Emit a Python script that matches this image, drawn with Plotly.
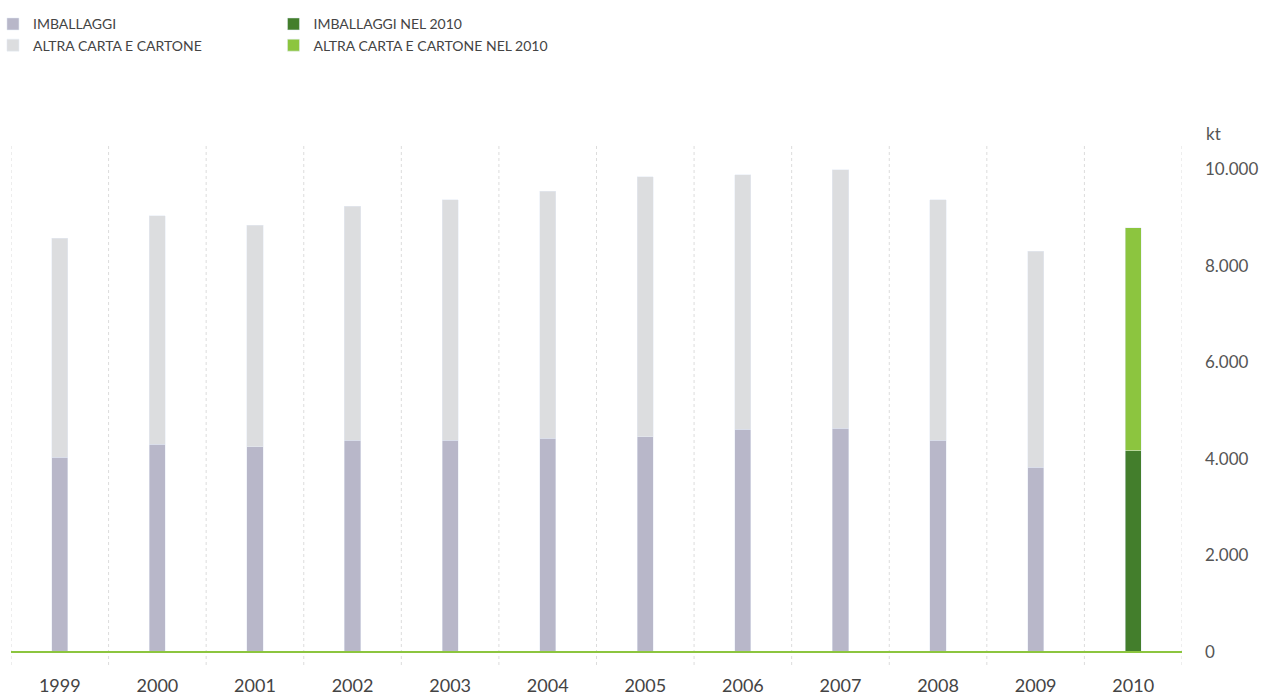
import plotly.graph_objects as go

# Paper and cardboard collection, kt per year
years = ["1999", "2000", "2001", "2002", "2003", "2004",
         "2005", "2006", "2007", "2008", "2009", "2010"]
imballaggi = [4040, 4310, 4250, 4390, 4390, 4430,
              4460, 4620, 4640, 4390, 3830, 4170]
altra_carta = [4540, 4730, 4600, 4850, 4980, 5120,
               5390, 5270, 5350, 4980, 4480, 4620]

y_ticks = [0, 2000, 4000, 6000, 8000, 10000]
y_tick_text = ["0", "2.000", "4.000", "6.000", "8.000", "10.000"]

C_IMB = "#b8b7c9"
C_ALT = "#dcdddf"
C_IMB_10 = "#437e2c"
C_ALT_10 = "#8cc53f"

last = len(years) - 1
hist_years = years[:last]

fig = go.Figure()
fig.add_trace(go.Bar(x=hist_years, y=imballaggi[:last], name="IMBALLAGGI",
                     marker_color=C_IMB, width=0.165, legend="legend"))
fig.add_trace(go.Bar(x=hist_years, y=altra_carta[:last], name="ALTRA CARTA E CARTONE",
                     marker_color=C_ALT, width=0.165, legend="legend"))
fig.add_trace(go.Bar(x=[years[last]], y=[imballaggi[last]], name="IMBALLAGGI NEL 2010",
                     marker_color=C_IMB_10, width=0.165, legend="legend2"))
fig.add_trace(go.Bar(x=[years[last]], y=[altra_carta[last]], name="ALTRA CARTA E CARTONE NEL 2010",
                     marker_color=C_ALT_10, width=0.165, legend="legend2"))

shapes = []
# dashed separators between the years
for i in range(len(years) + 1):
    shapes.append(dict(type="line", xref="x", yref="paper", x0=i - 0.5, x1=i - 0.5,
                       y0=0, y1=1, layer="below",
                       line=dict(color="#dcdcdc", width=1, dash="3px,3px")))
# baseline
shapes.append(dict(type="line", xref="x", yref="y", x0=-0.5, x1=len(years) - 0.5,
                   y0=0, y1=0, layer="above",
                   line=dict(color="#8cc53f", width=2)))

legend_font = dict(family="Lato", size=14, color="#444444")

fig.update_layout(
    width=1272, height=696,
    margin=dict(l=11, r=90, t=145, b=31, autoexpand=False),
    paper_bgcolor="white", plot_bgcolor="white",
    barmode="stack",
    font=dict(family="Lato", color="#555555"),
    shapes=shapes,
    showlegend=True,
    legend=dict(x=-0.0154, y=0.988, xref="paper", yref="container",
                xanchor="left", yanchor="top", orientation="v",
                font=legend_font, traceorder="normal",
                itemwidth=30, tracegroupgap=0, bgcolor="rgba(0,0,0,0)"),
    legend2=dict(x=0.215, y=0.988, xref="container", yref="container",
                 xanchor="left", yanchor="top", orientation="v",
                 font=legend_font, traceorder="normal",
                 itemwidth=30, tracegroupgap=0, bgcolor="rgba(0,0,0,0)"),
    xaxis=dict(type="category", range=[-0.5, len(years) - 0.5],
               showgrid=False, zeroline=False, showline=False,
               ticks="", ticklabelstandoff=8,
               tickfont=dict(family="Lato", size=18, color="#444444")),
    yaxis=dict(side="right", range=[-269, 10508],
               tickvals=y_ticks, ticktext=y_tick_text,
               showgrid=False, zeroline=False, showline=False,
               ticks="", ticklabelstandoff=22,
               tickfont=dict(family="Lato", size=17, color="#555555")),
    annotations=[dict(text="kt", xref="paper", yref="paper", x=1.0, y=1.0,
                      xshift=22, yshift=12, xanchor="left", yanchor="middle",
                      showarrow=False,
                      font=dict(family="Lato", size=17, color="#555555"))],
)

fig.write_html("out.html")
